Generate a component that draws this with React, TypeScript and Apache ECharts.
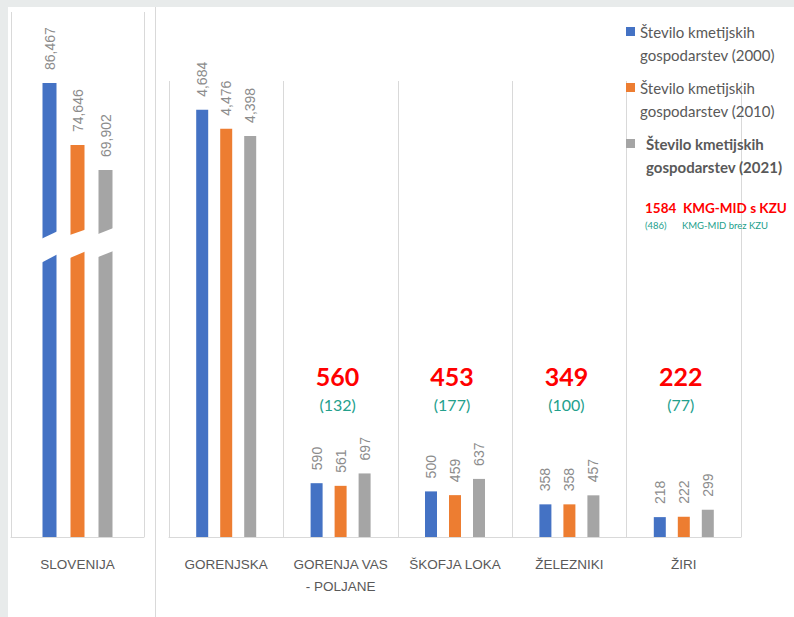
import React, { useEffect, useRef } from 'react';
import * as echarts from 'echarts';

const leftCategories = ['SLOVENIJA'];
const rightCategories = ['GORENJSKA', 'GORENJA VAS - POLJANE', 'ŠKOFJA LOKA', 'ŽELEZNIKI', 'ŽIRI'];
const seriesNames = [
  'Število kmetijskih gospodarstev (2000)',
  'Število kmetijskih gospodarstev (2010)',
  'Število kmetijskih gospodarstev (2021)',
];
const left2000 = [86467];
const left2010 = [74646];
const left2021 = [69902];
const right2000 = [4684, 590, 500, 358, 218];
const right2010 = [4476, 561, 459, 358, 222];
const right2021 = [4398, 697, 637, 457, 299];
const kmgMidSKzu: (number | null)[] = [null, 560, 453, 349, 222];
const kmgMidBrezKzu: (number | null)[] = [null, 132, 177, 100, 77];
const totalSKzu = 1584;
const totalBrezKzu = 486;
const noteSKzu = 'KMG-MID s KZU';
const noteBrezKzu = 'KMG-MID brez KZU';

const colors = ['#4472c4', '#ed7d31', '#a5a5a5'];
const labelGray = '#8c8c8c';
const axisGray = '#595959';
const lineGray = '#d9d9d9';
const teal = '#23a08c';

export default function App() {
  const ref = useRef<HTMLDivElement>(null);
  useEffect(() => {
    if (!ref.current) return;
    const chart = echarts.init(ref.current, null, { renderer: 'svg' });

    const barLabel = {
      show: true,
      position: 'top',
      rotate: 90,
      align: 'left',
      verticalAlign: 'middle',
      distance: 13,
      color: labelGray,
      fontSize: 14,
      fontFamily: 'Liberation Sans',
      formatter: (p: any) => Number(p.value).toLocaleString('en-US'),
    };

    const leftData = [left2000, left2010, left2021];
    const rightData = [right2000, right2010, right2021];

    const series: any[] = [];
    leftData.forEach((d, i) => {
      series.push({
        type: 'bar',
        name: seriesNames[i],
        xAxisIndex: 0,
        yAxisIndex: 0,
        data: d,
        barWidth: 14,
        barGap: '100%',
        itemStyle: { color: colors[i] },
        label: barLabel,
      });
    });
    rightData.forEach((d, i) => {
      series.push({
        type: 'bar',
        name: seriesNames[i],
        xAxisIndex: 1,
        yAxisIndex: 1,
        data: d,
        barWidth: 12,
        barGap: '100%',
        itemStyle: { color: colors[i] },
        label: barLabel,
      });
    });

    const noteData = kmgMidSKzu
      .map((v, i) => [i, v, kmgMidBrezKzu[i]])
      .filter((r) => r[1] != null);

    series.push({
      type: 'custom',
      xAxisIndex: 1,
      yAxisIndex: 1,
      silent: true,
      z: 10,
      data: noteData,
      encode: { x: 0, y: 1 },
      renderItem: (params: any, api: any) => {
        const x = api.coord([api.value(0), 0])[0] - 3;
        return {
          type: 'group',
          children: [
            {
              type: 'text',
              x,
              y: 376,
              style: {
                text: String(api.value(1)),
                fill: '#ff0000',
                font: 'bold 25px Lato',
                align: 'center',
                verticalAlign: 'middle',
              },
            },
            {
              type: 'text',
              x,
              y: 404,
              style: {
                text: '(' + api.value(2) + ')',
                fill: teal,
                font: '16px Lato',
                align: 'center',
                verticalAlign: 'middle',
              },
            },
          ],
        };
      },
    });

    const xAxisCommon = {
      type: 'category',
      axisTick: { show: false },
      axisLine: { show: true, lineStyle: { color: lineGray } },
      splitLine: { show: true, interval: 0, lineStyle: { color: lineGray } },
      axisLabel: {
        interval: 0,
        color: axisGray,
        fontSize: 13.5,
        fontFamily: 'Liberation Sans',
        margin: 16,
        lineHeight: 22,
        formatter: (v: string) => v.replace(' - ', '\n- '),
      },
    };

    const breakPolys = [
      [[40, 239.4], [59, 230.6], [59, 253.4], [40, 263.6]],
      [[67, 236.1], [87, 228.9], [87, 250.7], [67, 259.3]],
      [[95, 235.2], [114, 227.8], [114, 250.8], [95, 258.2]],
    ];

    chart.setOption({
      animation: false,
      backgroundColor: '#e8ebeb',
      grid: [
        { left: 11, top: 12, width: 133, bottom: 80 },
        { left: 169, top: 81, width: 572, bottom: 80 },
      ],
      xAxis: [
        { ...xAxisCommon, gridIndex: 0, data: leftCategories },
        { ...xAxisCommon, gridIndex: 1, data: rightCategories },
      ],
      yAxis: [
        { type: 'value', gridIndex: 0, min: 0, max: 100000, show: false },
        { type: 'value', gridIndex: 1, min: 0, max: 5000, show: false },
      ],
      legend: {
        orient: 'vertical',
        left: 626,
        top: -3,
        padding: 0,
        itemGap: -13,
        itemWidth: 9,
        itemHeight: 9,
        icon: 'rect',
        selectedMode: false,
        textStyle: {
          fontFamily: 'Lato',
          fontSize: 15,
          color: axisGray,
          lineHeight: 23,
        },
        formatter: (name: string) => '\n' + name.replace('kmetijskih ', 'kmetijskih\n'),
        data: [
          { name: seriesNames[0] },
          { name: seriesNames[1] },
          { name: seriesNames[2], textStyle: { fontWeight: 'bold', padding: [0, 0, 0, 6] } },
        ],
      },
      graphic: [
        {
          type: 'rect',
          z: -1,
          silent: true,
          shape: { x: 8, y: 7, width: 786, height: 610 },
          style: { fill: '#ffffff' },
        },
        {
          type: 'line',
          z: -1,
          silent: true,
          shape: { x1: 155.5, y1: 7, x2: 155.5, y2: 617 },
          style: { stroke: lineGray, lineWidth: 1 },
        },
        ...breakPolys.map((pts) => ({
          type: 'polygon',
          z: 100,
          silent: true,
          shape: { points: pts },
          style: { fill: '#ffffff' },
        })),
        {
          type: 'text',
          z: 100,
          x: 645,
          y: 208,
          style: {
            text: String(totalSKzu),
            fill: '#ff0000',
            font: 'bold 13.5px Lato',
            verticalAlign: 'middle',
          },
        },
        {
          type: 'text',
          z: 100,
          x: 683,
          y: 208,
          style: {
            text: noteSKzu,
            fill: '#ff0000',
            font: 'bold 13.5px Lato',
            verticalAlign: 'middle',
          },
        },
        {
          type: 'text',
          z: 100,
          x: 645,
          y: 225,
          style: {
            text: '(' + totalBrezKzu + ')',
            fill: teal,
            font: '9.5px Lato',
            verticalAlign: 'middle',
          },
        },
        {
          type: 'text',
          z: 100,
          x: 682,
          y: 225,
          style: {
            text: noteBrezKzu,
            fill: teal,
            font: '9.5px Lato',
            verticalAlign: 'middle',
          },
        },
      ],
      series,
    });

    return () => chart.dispose();
  }, []);

  return (
    <div
      ref={ref}
      style={{ position: 'absolute', left: 0, top: 0, width: 794, height: 617 }}
    />
  );
}
